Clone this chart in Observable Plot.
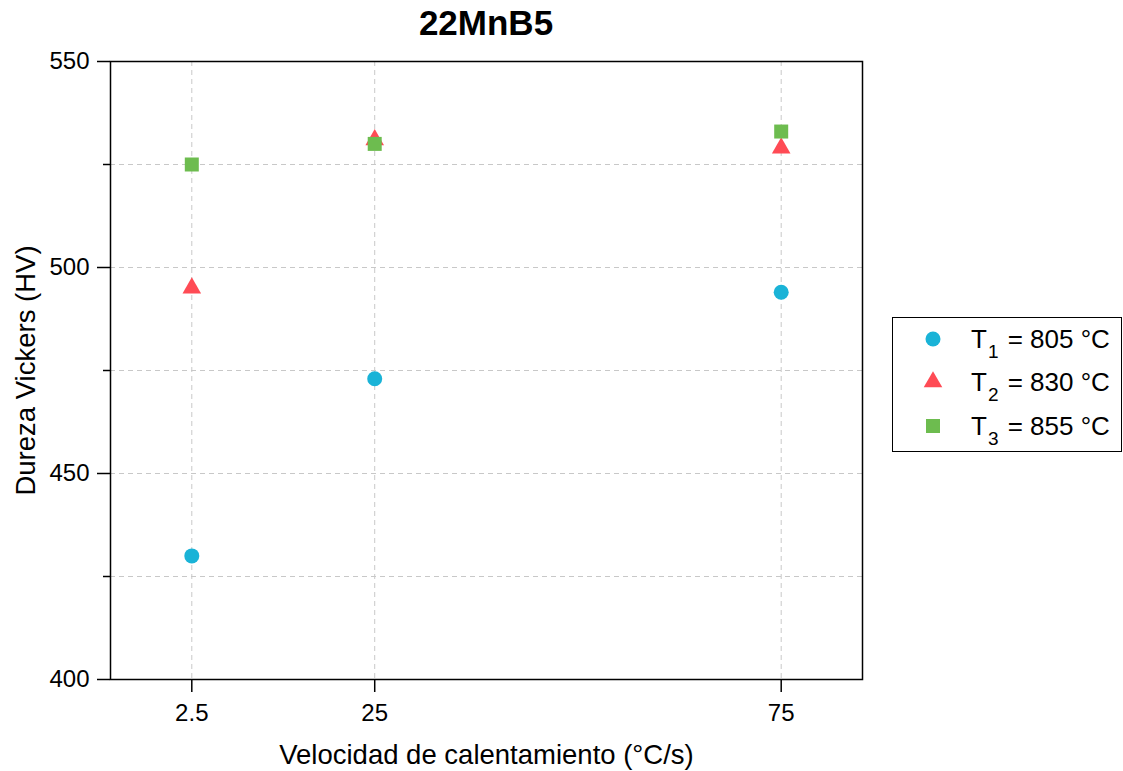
<!DOCTYPE html>
<html>
<head>
<meta charset="utf-8">
<script src="https://cdn.jsdelivr.net/npm/d3@7"></script>
<script src="https://cdn.jsdelivr.net/npm/@observablehq/plot@0.6"></script>
<style>
  body { margin: 0; background: #fff; font-family: "Liberation Sans", Arial, sans-serif; }
  #wrap { position: relative; width: 1123px; height: 771px; overflow: hidden; }
  #title { width: 972px; height: 45px; line-height: 45px; text-align: center; font-weight: bold; font-size: 35px; color: #000; }
  #legend { position: absolute; left: 892px; top: 317px; width: 228px; height: 133px; border: 1px solid #000; background: #fff; }
  .row { position: absolute; left: 0; height: 44px; line-height: 44px; font-size: 26px; color: #000; white-space: nowrap; }
  .row svg { position: absolute; left: 29px; top: 11px; }
  .row .lab { position: absolute; left: 78px; top: 0; }
  .row .sub { font-size: 19px; position: relative; top: 10px; margin-left: 1px; margin-right: 2px; }
</style>
</head>
<body>
<div id="wrap">
  <div id="title"></div>
  <div id="chart"></div>
  <div id="legend"></div>
</div>
<script>
const titleText = "22MnB5";
const xLabel = "Velocidad de calentamiento (°C/s)";
const yLabel = "Dureza Vickers (HV)";
const rates = [2.5, 25, 75];
const rateLabels = ["2.5", "25", "75"];
const t1 = [430, 473, 494];
const t2 = [495, 531, 529];
const t3 = [525, 530, 533];
const seriesMain = ["T", "T", "T"];
const seriesSub = ["1", "2", "3"];
const seriesRest = [" = 805 °C", " = 830 °C", " = 855 °C"];
const seriesColors = ["#1AB3D7", "#FF4B55", "#6DBC4F"];
const seriesSymbols = ["circle", "triangle", "square"];
const seriesR = [7.5, 6.9, 7.9];
const yMajorTicks = [400, 450, 500, 550];
const yMinorTicks = [425, 475, 525];
const yGridLines = [425, 450, 475, 500, 525];

const seriesValues = [t1, t2, t3];
const tables = seriesValues.map(vals => rates.map((r, i) => ({rate: r, hv: vals[i]})));

document.getElementById("title").textContent = titleText;

const gridStyle = {stroke: "#c8c8c8", strokeOpacity: 1, strokeWidth: 1, strokeDasharray: "5,4"};

const chart = Plot.plot({
  width: 1123,
  height: 726,
  marginLeft: 110,
  marginRight: 261,
  marginTop: 16,
  marginBottom: 92,
  style: {fontFamily: '"Liberation Sans", Arial, sans-serif', fontSize: "24px", color: "#000", background: "#fff"},
  x: {type: "linear", domain: [-7.5, 85]},
  y: {type: "linear", domain: [400, 550]},
  marks: [
    Plot.gridX(rates, gridStyle),
    Plot.gridY(yGridLines, gridStyle),
    Plot.axisX(rates, {tickSize: 13, tickPadding: 11, strokeWidth: 1.5, fontSize: 24, label: null,
      tickFormat: d => rateLabels[rates.indexOf(d)]}),
    Plot.axisY(yMajorTicks, {tickSize: 13, tickPadding: 8, strokeWidth: 1.5, fontSize: 24, label: null}),
    Plot.axisY(yMinorTicks, {tickSize: 7, strokeWidth: 1.5, label: null, tickFormat: () => ""}),
    Plot.text([xLabel], {frameAnchor: "bottom", dy: 76, lineAnchor: "middle", textAnchor: "middle", fontSize: 27.5, fill: "#000"}),
    Plot.text([yLabel], {frameAnchor: "left", dx: -84, rotate: -90, lineAnchor: "middle", textAnchor: "middle", fontSize: 27.5, fill: "#000"}),
    ...tables.map((tbl, k) => Plot.dot(tbl, {x: "rate", y: "hv", fill: seriesColors[k], symbol: seriesSymbols[k], r: seriesR[k], stroke: "none"})),
    Plot.frame({stroke: "#000", strokeWidth: 1.5})
  ]
});
document.getElementById("chart").appendChild(chart);

// legend
const legend = document.getElementById("legend");
const rowCenters = [21, 64, 108];
const symbolTypes = {circle: d3.symbolCircle, triangle: d3.symbolTriangle, square: d3.symbolSquare};
seriesMain.forEach((m, k) => {
  const row = document.createElement("div");
  row.className = "row";
  row.style.top = (rowCenters[k] - 22) + "px";
  const path = d3.symbol(symbolTypes[seriesSymbols[k]], Math.PI * seriesR[k] * seriesR[k])();
  row.innerHTML = `<svg width="22" height="22" viewBox="-11 -11 22 22"><path d="${path}" fill="${seriesColors[k]}"/></svg>` +
    `<span class="lab">${m}<span class="sub">${seriesSub[k]}</span>${seriesRest[k]}</span>`;
  legend.appendChild(row);
});
</script>
</body>
</html>
